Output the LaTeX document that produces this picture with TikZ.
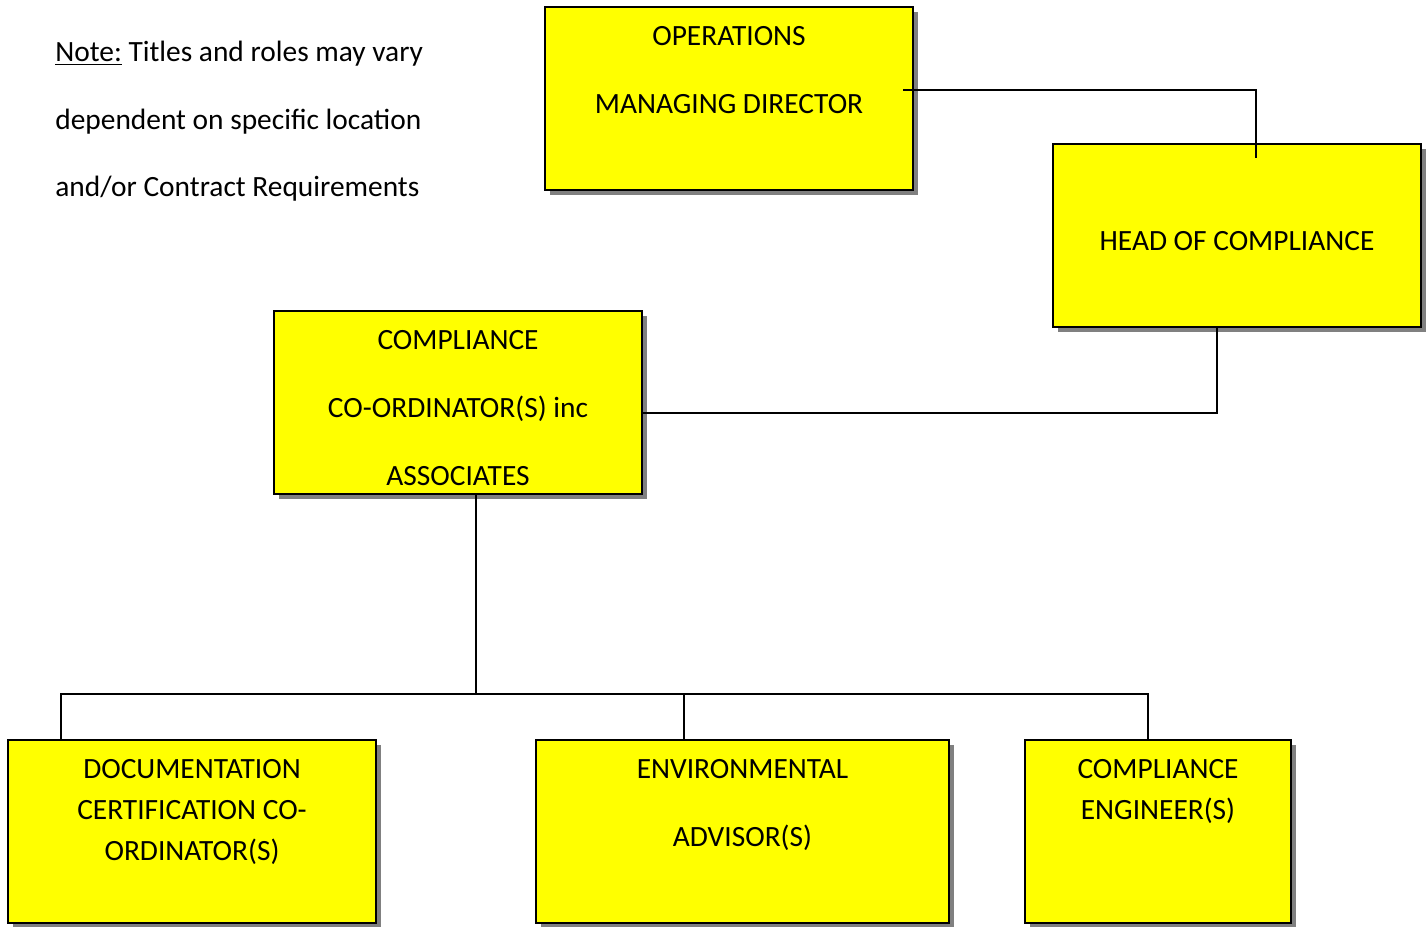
\documentclass[tikz,border=0pt]{standalone}
\usepackage{fontspec}
\setmainfont{Carlito}
\usetikzlibrary{positioning,calc,shadows}
\definecolor{boxyellow}{RGB}{255,255,0}
\definecolor{shadowgray}{RGB}{128,128,128}

\begin{document}
\begin{tikzpicture}[x=0.5pt,y=-0.5pt,
box/.style={draw,rectangle,fill=boxyellow,line width=1pt,outer sep=0pt,
    minimum width=184pt,minimum height=91.5pt,
    drop shadow={shadow xshift=2.5pt,shadow yshift=-2.5pt,fill=shadowgray,opacity=1}},
txt/.style={inner sep=0pt,align=center,anchor=north},
wide/.style={font=\fontsize{14.7}{34}\selectfont},
tight/.style={font=\fontsize{14.7}{20.5}\selectfont},
link/.style={draw,line width=0.75pt}]
\useasboundingbox (0,0) rectangle (1427,926);

\node (ops) [box] at (729,98.5) {};
\node (head) [box] at (1237,235.5) {};
\node (coord) [box] at (458,402.5) {};
\node (doc) [box] at (192,831) {};
\node (env) [box,minimum width=206.5pt] at (742.5,831) {};
\node (eng) [box,minimum width=133pt] at (1158,831) {};

\node (opstxt) [txt,wide,below=9.75pt of ops.north] {OPERATIONS\\MANAGING DIRECTOR};
\node (headtxt) [txt,wide,below=43.75pt of head.north] {HEAD OF COMPLIANCE};
\node (coordtxt) [txt,wide,below=9.75pt of coord.north] {COMPLIANCE\\CO-ORDINATOR(S) inc\\ASSOCIATES};
\node (doctxt) [txt,tight,below=9.75pt of doc.north] {DOCUMENTATION\\CERTIFICATION CO-\\ORDINATOR(S)};
\node (envtxt) [txt,wide,below=9.75pt of env.north] {ENVIRONMENTAL\\ADVISOR(S)};
\node (engtxt) [txt,tight,below=9.75pt of eng.north] {COMPLIANCE\\ENGINEER(S)};

\node (note) [inner sep=0pt,align=left,anchor=north west,
    font=\fontsize{14.7}{33.75}\selectfont] at (55,41)
    {\underline{Note:} Titles and roles may vary\\dependent on specific location\\and/or Contract Requirements};

% connectors
\coordinate (hub) at ($(coord.south)+(18,200)$);
\draw [link] ($(ops.east)+(-10,-8.5)$) -| ($(head.north)+(19,14)$);
\draw [link] ($(head.south)+(-20,0)$) |- ($(coord.east)+(0,10.5)$);
\draw [link] ($(coord.south)+(18,0)$) -- (hub);
\draw [link] (hub) -| ($(doc.north)+(-131,0)$);
\draw [link] (hub) -| ($(eng.north)+(-10,0)$);
\draw [link] ($(env.north)+(-58.5,0)$) -- (hub -| {$(env.north)+(-58.5,0)$});
\end{tikzpicture}
\end{document}
